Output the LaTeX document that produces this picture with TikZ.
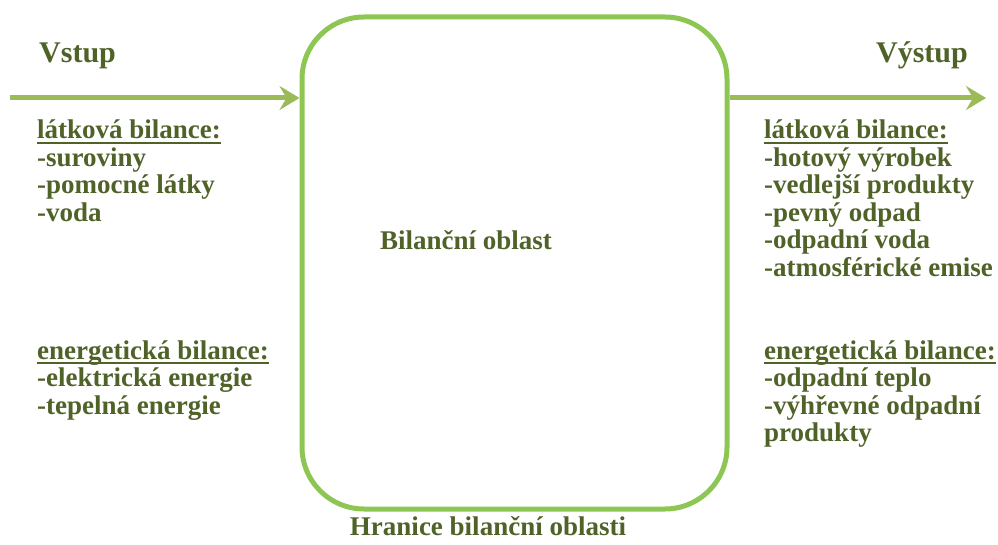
\documentclass[tikz,border=0pt]{standalone}
\usepackage{fontspec}
\setmainfont{Liberation Serif}
\usetikzlibrary{arrows.meta}
\definecolor{txtgreen}{RGB}{79,98,40}
\definecolor{boxgreen}{RGB}{141,198,82}
\definecolor{arrgreen}{RGB}{155,187,89}
\begin{document}
\begin{tikzpicture}[x=1pt,y=1pt,
  every node/.style={inner sep=0pt,text=txtgreen,font=\bfseries\fontsize{27}{28}\selectfont},
  item/.style={anchor=base west},
  head/.style={anchor=base west},
  flow/.style={draw=arrgreen,line width=5pt,-{Stealth[length=20pt,width=24pt,inset=7pt]}},
  uline/.style={draw=txtgreen,line width=1.6pt}]
  \useasboundingbox (0,0) rectangle (998,-545);
  % bilancni oblast
  \node[draw=boxgreen,line width=5pt,rounded corners=62pt,minimum width=425pt,minimum height=492pt] (box) at (514.5,-263) {};
  \node[anchor=base] (boxname) at (466,-250) {Bilanční oblast};
  \node[anchor=base] (border) at (488,-535) {Hranice bilanční oblasti};
  % vstup a vystup
  \node[anchor=base west,font=\bfseries\fontsize{30}{32}\selectfont] (in) at (39,-63) {Vstup};
  \node[anchor=base east,font=\bfseries\fontsize{30}{32}\selectfont] (out) at (968,-63) {Výstup};
  \coordinate (inL) at (10,-98);
  \coordinate (outR) at (986,-98);
  \draw[flow] (inL) -- (inL -| box.west);
  \draw[flow] (outR -| box.east) -- (outR);
  % nadpisy
  \foreach \n/\x/\y/\t in {lmin/37/-139/látková bilance:,lein/37/-359/energetická bilance:,lmout/764/-139/látková bilance:,leout/764/-359/energetická bilance:}{
    \node[head] (\n) at (\x,\y) {\t};
    \draw[uline] ([yshift=-4pt]\n.base west) -- ([yshift=-4pt]\n.base east);
  }
  % polozky vstup
  \foreach \i/\y/\t in {1/-166.5/-suroviny,2/-194/-pomocné látky,3/-221.5/-voda,4/-386.5/-elektrická energie,5/-414/-tepelná energie}
    \node[item] (vin\i) at (37,\y) {\t};
  % polozky vystup
  \foreach \i/\y/\t in {1/-166.5/-hotový výrobek,2/-194/-vedlejší produkty,3/-221.5/-pevný odpad,4/-249/-odpadní voda,5/-276.5/-atmosférické emise,6/-386.5/-odpadní teplo,7/-414/-výhřevné odpadní,8/-441.5/produkty}
    \node[item] (vout\i) at (764,\y) {\t};
\end{tikzpicture}
\end{document}
